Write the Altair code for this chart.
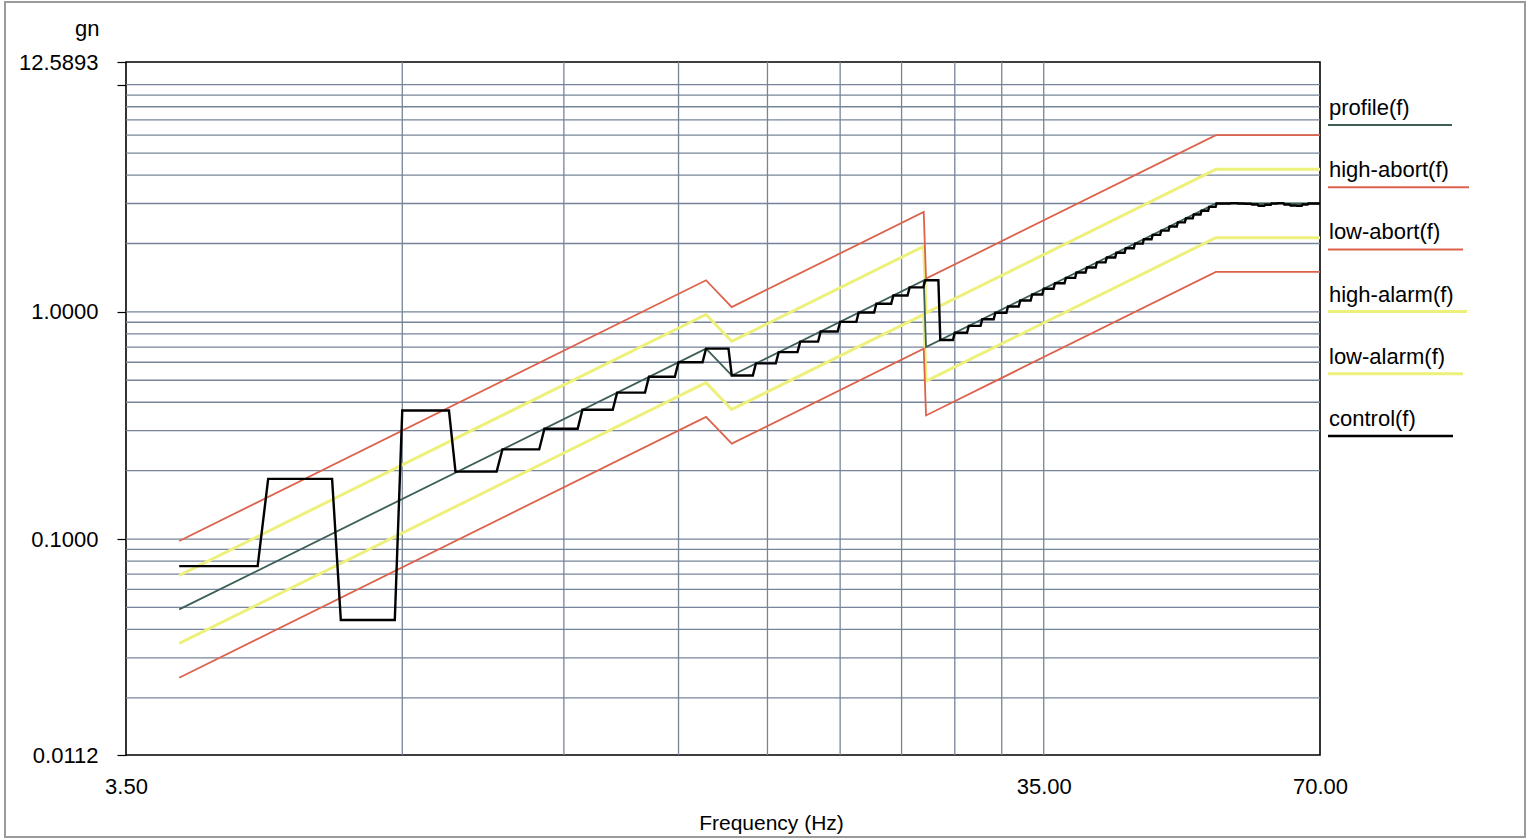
import altair as alt
import pandas as pd

FONT = "Liberation Sans"

# ---------------- data ----------------
# breakpoints of the reference profile and of the limit curves (Hz)
limit_freq = [4.0, 15.0, 16.0, 25.9, 26.05, 53.9, 70.0]
profile    = [0.049, 0.689, 0.525, 1.376, 0.700, 3.00, 3.00]
high_abort = [0.098, 1.378, 1.050, 2.752, 1.400, 6.00, 6.00]
high_alarm = [0.0692, 0.974, 0.742, 1.944, 0.989, 4.24, 4.24]
low_alarm  = [0.0347, 0.488, 0.372, 0.974, 0.496, 2.12, 2.12]
low_abort  = [0.0245, 0.345, 0.263, 0.688, 0.350, 1.50, 1.50]

# control (measured) level at each sweep frequency (Hz)
control_freq = [4, 5, 6, 7, 8, 9, 10, 11, 12, 13, 14, 15, 16, 17, 18, 19, 20,
                21, 22, 23, 24, 25, 26, 27, 28, 29, 30, 31, 32, 33, 34, 35, 36,
                37, 38, 39, 40, 41, 42, 43, 44, 45, 46, 47, 48, 49, 50, 51, 52,
                53, 54, 55, 56, 57, 58, 59, 60, 61, 62, 63, 64, 65, 66, 67, 68,
                69, 70]
control_val = [0.076, 0.184, 0.044, 0.368, 0.198, 0.248, 0.306, 0.371, 0.441,
               0.518, 0.600, 0.689, 0.525, 0.593, 0.665, 0.740, 0.820, 0.904,
               0.993, 1.085, 1.181, 1.282, 1.377, 0.752, 0.809, 0.868, 0.928,
               0.991, 1.056, 1.123, 1.193, 1.264, 1.337, 1.412, 1.490, 1.569,
               1.651, 1.734, 1.820, 1.907, 1.997, 2.089, 2.183, 2.279, 2.377,
               2.477, 2.579, 2.683, 2.789, 2.898, 3.00, 3.00, 3.01, 3.00, 2.99,
               2.97, 2.93, 2.96, 3.00, 3.01, 2.97, 2.94, 2.93, 2.97, 3.00, 3.00,
               3.00]
HOLD_GAP = 0.13  # the level is held until just before the next sweep frequency

x_ticks = [3.5, 35.0, 70.0]
y_ticks = [0.0112, 0.1, 1.0, 10.0, 12.5893]
x_grid = [7.0, 10.5, 14.0, 17.5, 21.0, 24.5, 28.0, 31.5, 35.0]
y_grid = [0.02, 0.03, 0.04, 0.05, 0.06, 0.07, 0.08, 0.09,
          0.1, 0.2, 0.3, 0.4, 0.5, 0.6, 0.7, 0.8, 0.9,
          1, 2, 3, 4, 5, 6, 7, 8, 9, 10]

legend_labels = ["profile(f)", "high-abort(f)", "low-abort(f)",
                 "high-alarm(f)", "low-alarm(f)", "control(f)"]

# ---------------- style ----------------
W, H = 1194, 693
RED = "#dc624c"
YEL = "#eef07c"
PROF = "#3d5f58"
GRID = "#76849a"
legend_colors = [PROF, RED, RED, YEL, YEL, "black"]
legend_widths = [2, 2, 2, 3, 3, 2.5]
legend_len = [124, 141, 135, 139, 135, 125]

xs = alt.Scale(type="log", domain=[3.5, 70], nice=False)
ys = alt.Scale(type="log", domain=[0.0112, 12.5893], nice=False)

x_axis = alt.Axis(values=x_ticks, format=".2f", grid=False, domain=False,
                  tickSize=0, labelPadding=31, labelBaseline="middle",
                  labelFlush=False, labelOverlap=False, labelFont=FONT,
                  labelFontSize=22, labelColor="black",
                  title="Frequency (Hz)", titleFont=FONT, titleFontSize=21,
                  titleFontWeight="normal", titleColor="black",
                  titleX=645, titleY=68, titleBaseline="middle",
                  titleAlign="center")
y_axis = alt.Axis(values=y_ticks,
                  labelExpr="datum.value == 10 ? '' : format(datum.value, '.4f')",
                  grid=False, domain=False, tickColor="black", tickSize=9,
                  tickWidth=1.2, labelPadding=19, labelOverlap=False,
                  labelFlush=False, labelFont=FONT, labelFontSize=22,
                  labelColor="black", title="gn", titleAngle=0,
                  titleAlign="right", titleBaseline="alphabetic",
                  titleX=-27, titleY=-27, titleFont=FONT, titleFontSize=22,
                  titleFontWeight="normal", titleColor="black")

X = lambda f: alt.X(f, type="quantitative", scale=xs, axis=x_axis)
Y = lambda f: alt.Y(f, type="quantitative", scale=ys, axis=y_axis)

# grid
hgrid = alt.Chart(pd.DataFrame({"v": y_grid})).mark_rule(
    color=GRID, strokeWidth=1.3).encode(y=Y("v"))
vgrid = alt.Chart(pd.DataFrame({"f": x_grid})).mark_rule(
    color=GRID, strokeWidth=1.3).encode(x=X("f"))


def curve(vals, color, width):
    df = pd.DataFrame({"f": limit_freq, "v": vals, "i": range(len(vals))})
    return alt.Chart(df).mark_line(color=color, strokeWidth=width).encode(
        x=X("f"), y=Y("v"), order="i:Q")


# control as a held-level step line
cf, cv = [], []
for k in range(len(control_freq)):
    cf.append(control_freq[k]); cv.append(control_val[k])
    if k + 1 < len(control_freq):
        cf.append(control_freq[k + 1] - HOLD_GAP); cv.append(control_val[k])
ctrl_df = pd.DataFrame({"f": cf, "v": cv, "i": range(len(cf))})
control = alt.Chart(ctrl_df).mark_line(color="black", strokeWidth=2.4).encode(
    x=X("f"), y=Y("v"), order="i:Q")

layers = [hgrid, vgrid,
          curve(high_alarm, YEL, 3), curve(low_alarm, YEL, 3),
          curve(high_abort, RED, 1.8), curve(low_abort, RED, 1.8),
          curve(profile, PROF, 1.8), control]

# legend (label above a line sample), right of the plot
dummy = pd.DataFrame({"a": [0]})
for i, lab in enumerate(legend_labels):
    ty = 46 + i * 62.2
    layers.append(alt.Chart(dummy).mark_text(
        text=lab, font=FONT, fontSize=22, align="left", baseline="middle",
        color="black").encode(x=alt.value(1203), y=alt.value(ty)))
    layers.append(alt.Chart(dummy).mark_rule(
        color=legend_colors[i], strokeWidth=legend_widths[i]).encode(
        x=alt.value(1202), x2=alt.value(1202 + legend_len[i]),
        y=alt.value(ty + 17)))

# outer frame of the picture
layers.append(alt.Chart(dummy).mark_rect(
    fillOpacity=0, stroke="#9a9a9a", strokeWidth=2).encode(
    x=alt.value(-121), x2=alt.value(1399), y=alt.value(-60), y2=alt.value(775)))

chart = alt.layer(*layers).properties(
    width=W, height=H,
    padding={"left": 126, "top": 62, "right": 210, "bottom": 85},
    autosize=alt.AutoSizeParams(type="none"),
    background="white",
).configure_view(stroke="black", strokeWidth=1.6)

chart.save("out.html", embed_options={"renderer": "svg", "actions": False})
